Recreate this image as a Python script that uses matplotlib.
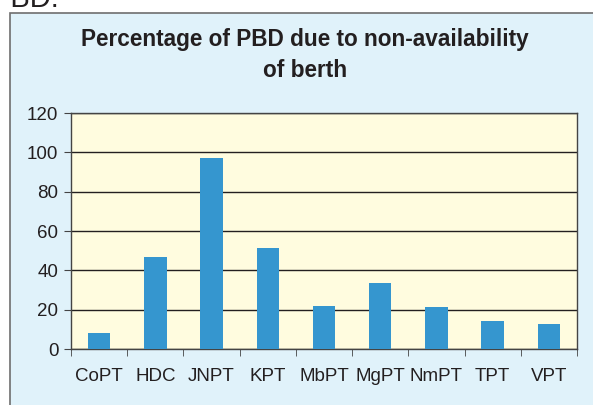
import matplotlib
matplotlib.use("Agg")
import matplotlib.pyplot as plt
from matplotlib.patches import Rectangle

plt.rcParams['font.family'] = ['Liberation Sans', 'DejaVu Sans']

ports = ['CoPT', 'HDC', 'JNPT', 'KPT', 'MbPT', 'MgPT', 'NmPT', 'TPT', 'VPT']
pbd_pct = [8.3, 46.8, 97, 51.3, 21.9, 33.5, 21.4, 14.2, 12.7]
yticks = [0, 20, 40, 60, 80, 100, 120]

W, H = 593, 405
fig = plt.figure(figsize=(W / 100, H / 100), dpi=100)
fig.patch.set_facecolor('white')

# outer chart frame (cut off at right and bottom)
fig.patches.append(Rectangle((10 / W, -0.05), 1.1, 1 - 13 / H + 0.05,
                             transform=fig.transFigure, facecolor='#E0F2FA',
                             edgecolor='#6e6e6e', linewidth=1.2, zorder=-1))
fig.text(-8 / W, 1 - 7 / H, 'PBD:', fontsize=21, color='#231f20',
         va='baseline', ha='left')

ax = fig.add_axes([71 / W, 1 - 349 / H, (577 - 71) / W, (349 - 113) / H])
ax.set_zorder(2)
ax.set_facecolor('#FFFCDF')
ax.bar(range(len(ports)), pbd_pct, width=0.4, color='#3596CF', zorder=3)

ax.set_xlim(-0.5, len(ports) - 0.5)
ax.set_ylim(0, 120)
ax.set_yticks(yticks)
ax.set_yticklabels([str(v) for v in yticks], fontsize=13.5, color='#231f20')
ax.set_xticks(range(len(ports)))
ax.set_xticklabels(ports, fontsize=13.5, color='#231f20')
ax.set_xticks([i - 0.5 for i in range(len(ports) + 1)], minor=True)
ax.tick_params(axis='x', which='major', length=0, pad=14)
ax.tick_params(axis='x', which='minor', length=5, color='#444444', direction='out')
ax.tick_params(axis='y', length=5, color='#444444', direction='out', pad=4)
ax.yaxis.grid(True, color='#231f20', linewidth=1.0, zorder=1)
for s in ax.spines.values():
    s.set_color('#444444')
    s.set_linewidth(1.0)

fig.text(305 / W, 1 - 55 / H, 'Percentage of PBD due to non-availability\nof berth',
         ha='center', va='center', fontsize=16.3, fontweight='bold',
         color='#231f20', linespacing=1.45)

fig.savefig('out.png', dpi=100)
